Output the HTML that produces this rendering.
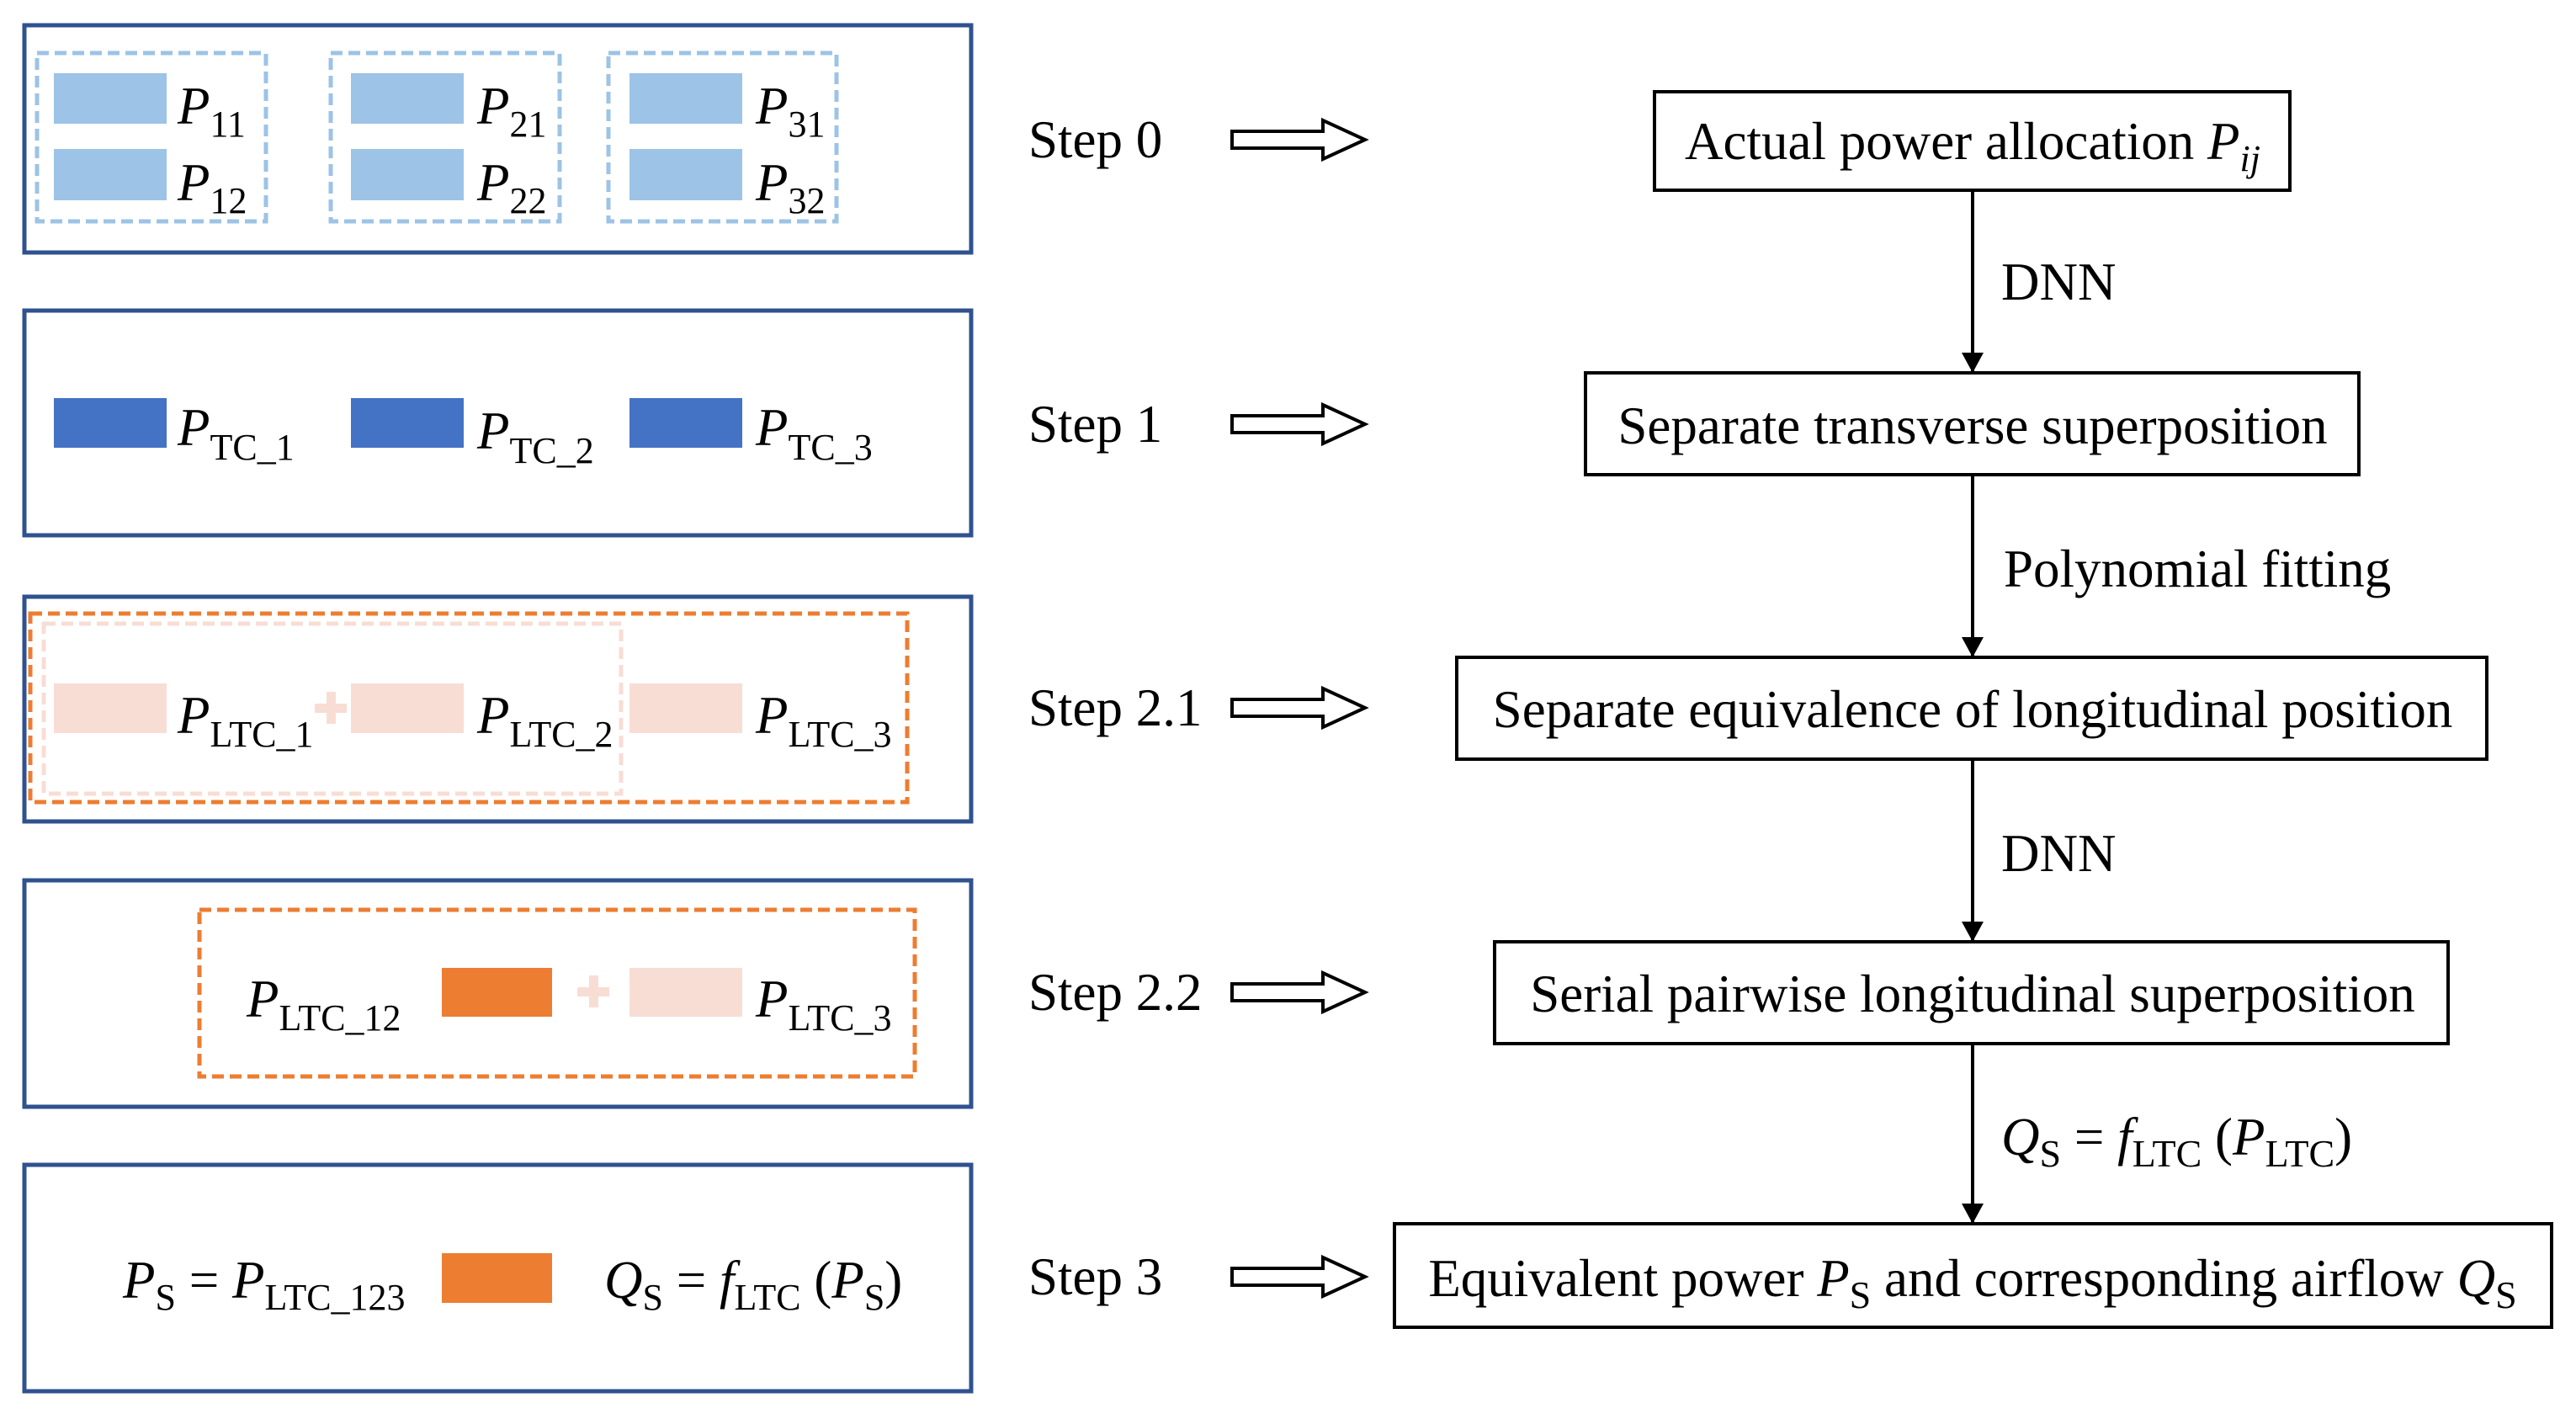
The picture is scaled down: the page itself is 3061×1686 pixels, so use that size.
<!DOCTYPE html>
<html><head><meta charset="utf-8"><style>
html,body{margin:0;padding:0;background:#fff}
svg{display:block}
text{font-family:"Liberation Serif",serif;fill:#000}
</style></head><body>
<svg width="3061" height="1686" viewBox="0 0 3061 1686" xmlns="http://www.w3.org/2000/svg">
<defs>
<marker id="ah" markerWidth="24" markerHeight="26" refX="22" refY="13" orient="auto" markerUnits="userSpaceOnUse" viewBox="0 0 24 26">
<path d="M0,0 L24,13 L0,26 z" fill="#000"/></marker>
</defs>
<g fill="none" stroke="#2F528F" stroke-width="5">
<rect x="29" y="30" width="1125" height="270"/>
<rect x="29" y="369" width="1125" height="267"/>
<rect x="29" y="709" width="1125" height="267"/>
<rect x="29" y="1046" width="1125" height="269"/>
<rect x="29" y="1384" width="1125" height="269"/>
</g>
<g fill="none" stroke="#9DC3E6" stroke-width="5" stroke-dasharray="14,7">
<rect x="44" y="63" width="272" height="200"/>
<rect x="393" y="63" width="272" height="200"/>
<rect x="723" y="63" width="271" height="200"/>
</g>
<g fill="#9DC3E6">
<rect x="64" y="87" width="134" height="60"/><rect x="64" y="177" width="134" height="61"/>
<rect x="417" y="87" width="134" height="60"/><rect x="417" y="177" width="134" height="61"/>
<rect x="748" y="87" width="134" height="60"/><rect x="748" y="177" width="134" height="61"/>
</g>
<g font-size="63">
<text x="211" y="147" font-style="italic">P<tspan font-style="normal" font-size="44" dy="15">11</tspan></text>
<text x="211" y="238" font-style="italic">P<tspan font-style="normal" font-size="44" dy="15">12</tspan></text>
<text x="567" y="147" font-style="italic">P<tspan font-style="normal" font-size="44" dy="15">21</tspan></text>
<text x="567" y="238" font-style="italic">P<tspan font-style="normal" font-size="44" dy="15">22</tspan></text>
<text x="898" y="147" font-style="italic">P<tspan font-style="normal" font-size="44" dy="15">31</tspan></text>
<text x="898" y="238" font-style="italic">P<tspan font-style="normal" font-size="44" dy="15">32</tspan></text>
</g>
<g fill="#4472C4">
<rect x="64" y="473" width="134" height="59"/>
<rect x="417" y="473" width="134" height="59"/>
<rect x="748" y="473" width="134" height="59"/>
</g>
<g font-size="63">
<text x="211" y="529" font-style="italic">P<tspan font-style="normal" font-size="44" dy="17">TC_1</tspan></text>
<text x="567" y="533" font-style="italic">P<tspan font-style="normal" font-size="44" dy="17">TC_2</tspan></text>
<text x="898" y="529" font-style="italic">P<tspan font-style="normal" font-size="44" dy="17">TC_3</tspan></text>
</g>
<rect x="36" y="729" width="1042" height="224" fill="none" stroke="#ED7D31" stroke-width="5" stroke-dasharray="14,7"/>
<rect x="52" y="741" width="686" height="202" fill="none" stroke="#F8DDD5" stroke-width="5" stroke-dasharray="14,7"/>
<g fill="#F8DDD5">
<rect x="64" y="812" width="134" height="59"/>
<rect x="417" y="812" width="134" height="59"/>
<rect x="748" y="812" width="134" height="59"/>
<rect x="374" y="836" width="38" height="11"/><rect x="388" y="822" width="11" height="38"/>
</g>
<g font-size="63">
<text x="211" y="871" font-style="italic">P<tspan font-style="normal" font-size="44" dy="16">LTC_1</tspan></text>
<text x="567" y="871" font-style="italic">P<tspan font-style="normal" font-size="44" dy="16">LTC_2</tspan></text>
<text x="898" y="871" font-style="italic">P<tspan font-style="normal" font-size="44" dy="16">LTC_3</tspan></text>
</g>
<rect x="237" y="1081" width="850" height="198" fill="none" stroke="#ED7D31" stroke-width="5" stroke-dasharray="14,7"/>
<rect x="525" y="1150" width="131" height="58" fill="#ED7D31"/>
<g fill="#F8DDD5">
<rect x="748" y="1150" width="134" height="58"/>
<rect x="686" y="1173" width="38" height="11"/><rect x="700" y="1159" width="11" height="38"/>
</g>
<g font-size="63">
<text x="293" y="1208" font-style="italic">P<tspan font-style="normal" font-size="44" dy="16">LTC_12</tspan></text>
<text x="898" y="1208" font-style="italic">P<tspan font-style="normal" font-size="44" dy="16">LTC_3</tspan></text>
</g>
<rect x="525" y="1489" width="131" height="59" fill="#ED7D31"/>
<g font-size="63">
<text x="146" y="1542" font-style="italic">P<tspan font-style="normal" font-size="44" dy="14">S</tspan><tspan font-style="normal" font-size="63" dy="-14"> = </tspan>P<tspan font-style="normal" font-size="44" dy="14">LTC_123</tspan></text>
<text x="718" y="1542" font-style="italic">Q<tspan font-style="normal" font-size="44" dy="14">S</tspan><tspan font-style="normal" font-size="63" dy="-14"> = </tspan>f<tspan font-style="normal" font-size="44" dy="14">LTC</tspan><tspan font-style="normal" font-size="63" dy="-14"> (</tspan>P<tspan font-style="normal" font-size="44" dy="14">S</tspan><tspan font-style="normal" font-size="63" dy="-14">)</tspan></text>
</g>
<g font-size="63">
<text x="1222" y="187">Step 0</text>
<text x="1222" y="525">Step 1</text>
<text x="1222" y="862">Step 2.1</text>
<text x="1222" y="1200">Step 2.2</text>
<text x="1222" y="1538">Step 3</text>
</g>
<g fill="#fff" stroke="#000" stroke-width="4">
<polygon points="1464,156 1572,156 1572,143 1622,166 1572,189 1572,176 1464,176"/>
<polygon points="1464,494 1572,494 1572,481 1622,504 1572,527 1572,514 1464,514"/>
<polygon points="1464,831 1572,831 1572,818 1622,841 1572,864 1572,851 1464,851"/>
<polygon points="1464,1169 1572,1169 1572,1156 1622,1179 1572,1202 1572,1189 1464,1189"/>
<polygon points="1464,1507 1572,1507 1572,1494 1622,1517 1572,1540 1572,1527 1464,1527"/>
</g>
<g fill="none" stroke="#000" stroke-width="4">
<rect x="1966" y="109" width="755" height="117"/>
<rect x="1884" y="443" width="919" height="121"/>
<rect x="1731" y="781" width="1224" height="121"/>
<rect x="1776" y="1119" width="1133" height="121"/>
<rect x="1657" y="1454" width="1375" height="123"/>
<line x1="2344" y1="226" x2="2344" y2="441" marker-end="url(#ah)"/>
<line x1="2344" y1="564" x2="2344" y2="779" marker-end="url(#ah)"/>
<line x1="2344" y1="902" x2="2344" y2="1117" marker-end="url(#ah)"/>
<line x1="2344" y1="1240" x2="2344" y2="1452" marker-end="url(#ah)"/>
</g>
<g font-size="63" text-anchor="middle">
<text x="2344" y="189">Actual power allocation <tspan font-style="italic">P</tspan><tspan font-style="italic" font-size="44" dy="14">ij</tspan></text>
<text x="2344" y="527">Separate transverse superposition</text>
<text x="2344" y="864">Separate equivalence of longitudinal position</text>
<text x="2344" y="1202">Serial pairwise longitudinal superposition</text>
<text x="2344" y="1540">Equivalent power <tspan font-style="italic">P</tspan><tspan font-size="46" dy="14">S</tspan><tspan dy="-14"> and corresponding airflow </tspan><tspan font-style="italic">Q</tspan><tspan font-size="46" dy="14">S</tspan></text>
</g>
<g font-size="63">
<text x="2378" y="356">DNN</text>
<text x="2381" y="697">Polynomial fitting</text>
<text x="2378" y="1035">DNN</text>
<text x="2378" y="1372" font-style="italic">Q<tspan font-style="normal" font-size="46" dy="14">S</tspan><tspan font-style="normal" dy="-14"> = </tspan>f<tspan font-style="normal" font-size="46" dy="14">LTC</tspan><tspan font-style="normal" dy="-14"> (</tspan>P<tspan font-style="normal" font-size="46" dy="14">LTC</tspan><tspan font-style="normal" dy="-14">)</tspan></text>
</g>
</svg>
</body></html>
